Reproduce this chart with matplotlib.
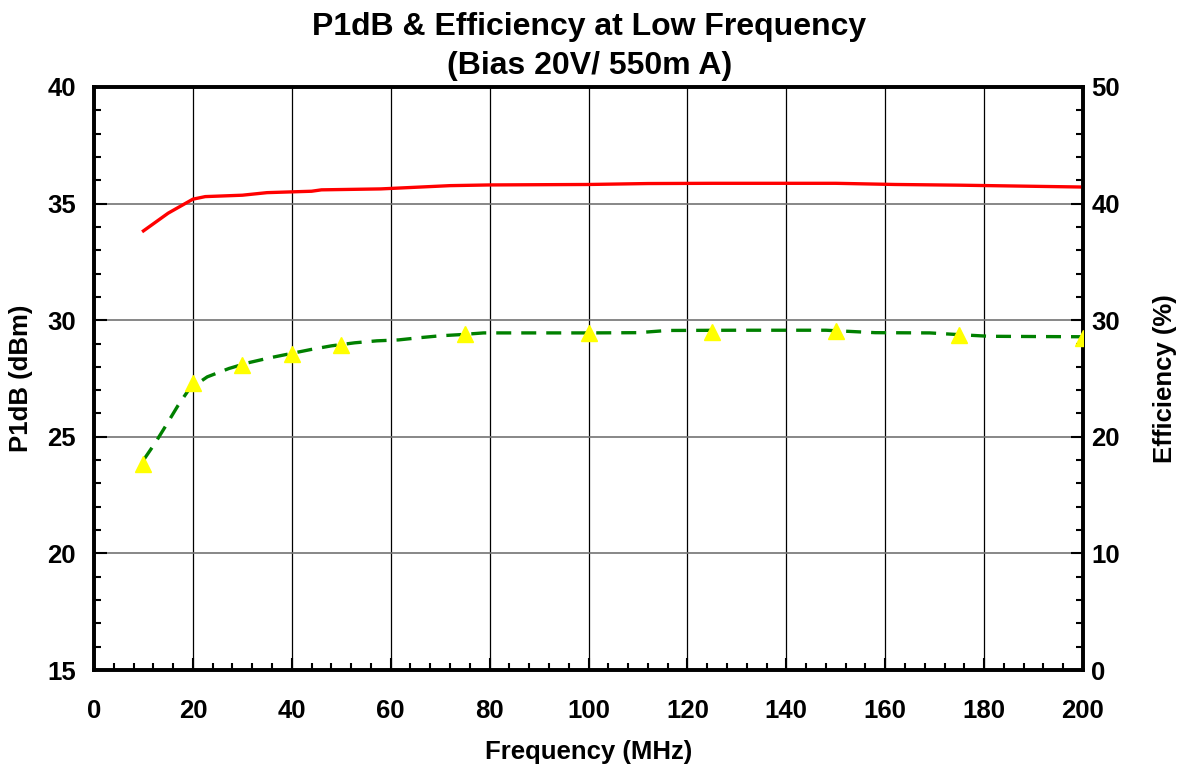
# P1dB & efficiency vs frequency, low band
import matplotlib
matplotlib.use("Agg")
import matplotlib.pyplot as plt
from matplotlib.ticker import MultipleLocator

# P1dB curve (MHz, dBm)
p1db_freq = [10, 15, 20, 22.5, 30, 35, 44, 46, 58, 72, 80, 90, 100, 112, 125, 140, 150, 162, 175, 200]
p1db_vals = [33.83, 34.59, 35.19, 35.30, 35.36, 35.47, 35.53, 35.59, 35.63, 35.77, 35.80, 35.81, 35.82, 35.86, 35.87, 35.87, 35.87, 35.82, 35.79, 35.71]

# efficiency curve (MHz, %)
eff_freq = [10, 12.4, 14.6, 17, 19.2, 22.9, 27.3, 31.1, 35.5, 43.9, 48, 52.7, 57.2, 61.6, 65.6, 69.9, 74.4, 78.8,
            90, 100, 110, 116, 130, 148, 158, 169, 175, 181, 190, 200]
eff_vals = [18.0, 19.49, 21.0, 22.69, 24.06, 25.14, 25.86, 26.34, 26.77, 27.49, 27.8, 28.06, 28.23, 28.31, 28.49, 28.66, 28.77, 28.91,
            28.91, 28.91, 28.93, 29.12, 29.14, 29.14, 28.93, 28.91, 28.76, 28.62, 28.6, 28.58]

# efficiency markers
mark_freq = [10, 20, 30, 40, 50, 75, 100, 125, 150, 175, 200]
mark_vals = [17.69, 24.63, 26.14, 27.11, 27.86, 28.8, 28.93, 29.01, 29.09, 28.71, 28.46]

plt.rcParams['font.family'] = ['Liberation Sans', 'DejaVu Sans']
plt.rcParams['font.weight'] = 'bold'

fig = plt.figure(figsize=(11.79, 7.74), dpi=100)
ax = fig.add_axes([94/1179, 1-670/774, (1083-94)/1179, (670-87)/774])
ax2 = ax.twinx()

ax.plot(p1db_freq, p1db_vals, color="#ff0000", lw=2.4, zorder=3)
ax2.plot(eff_freq, eff_vals, color="#008000", lw=2.4, dashes=(4.5, 3), zorder=3)
ax2.plot(mark_freq, mark_vals, ls="none", marker="^", ms=12, color="#ffff00", zorder=4)

ax.set_xlim(0, 200)
ax.set_ylim(15, 40)
ax2.set_ylim(0, 50)
ax.xaxis.set_major_locator(MultipleLocator(20))
ax.xaxis.set_minor_locator(MultipleLocator(4))
ax.yaxis.set_major_locator(MultipleLocator(5))
ax.yaxis.set_minor_locator(MultipleLocator(1))
ax2.yaxis.set_major_locator(MultipleLocator(10))
ax2.yaxis.set_minor_locator(MultipleLocator(2))

ax.grid(axis="x", which="major", color="black", lw=0.9)
ax.grid(axis="y", which="major", color="0.45", lw=1.2)

for a in (ax, ax2):
    for s in a.spines.values():
        s.set_linewidth(2.6)
ax.tick_params(which="both", direction="in", width=1.5, labelsize=18.5)
ax.tick_params(which="major", length=9)
ax.tick_params(which="minor", length=5)
ax.tick_params(axis="x", pad=21)
ax.tick_params(axis="y", pad=13)
ax2.tick_params(which="both", direction="in", width=1.5, labelsize=18.5, pad=6)
ax2.tick_params(which="major", length=9)
ax2.tick_params(which="minor", length=5)

ax.set_xlabel("Frequency (MHz)", fontsize=18.5, fontweight="bold", labelpad=12)
ax.set_ylabel("P1dB (dBm)", fontsize=18.5, fontweight="bold", labelpad=10)
ax2.set_ylabel("Efficiency (%)", fontsize=18.5, fontweight="bold", labelpad=24)
fig.text(0.5, 1-27/774, "P1dB & Efficiency at Low Frequency", ha="center", va="center", fontsize=23, fontweight="bold")
fig.text(0.5, 1-66/774, "(Bias 20V/ 550m A)", ha="center", va="center", fontsize=23, fontweight="bold")

fig.savefig("out.png", dpi=100)
